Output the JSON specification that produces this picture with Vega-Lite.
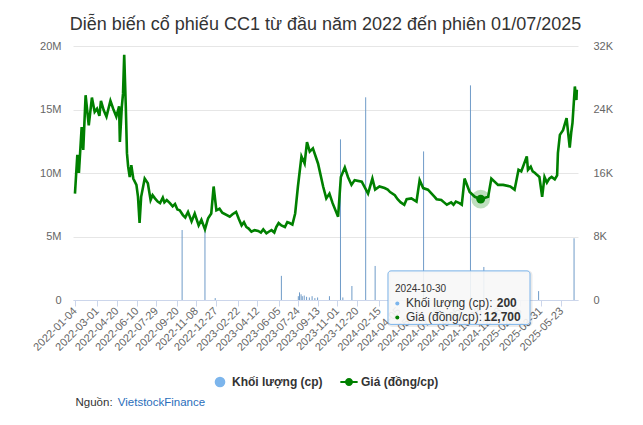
{
  "$schema": "https://vega.github.io/schema/vega-lite/v6.json",
  "width": 505,
  "height": 254,
  "autosize": {"type": "none"},
  "padding": {"left": 73, "top": 46, "right": 65, "bottom": 125},
  "config": {"view": {"stroke": null}, "font": "Liberation Sans"},
  "title": {
    "text": "Diễn biến cổ phiếu CC1 từ đầu năm 2022 đến phiên 01/07/2025",
    "fontSize": 18, "fontWeight": "normal", "color": "#333333", "font": "Liberation Sans",
    "anchor": "middle", "frame": "group", "baseline": "alphabetic", "offset": 12, "dy": 20
  },
  "datasets": {
    "vol": [
      {"date": "2022-10-03", "v": 5510000},
      {"date": "2022-11-30", "v": 5500000},
      {"date": "2022-12-26", "v": 150000},
      {"date": "2023-06-12", "v": 1900000},
      {"date": "2023-07-25", "v": 300000},
      {"date": "2023-07-28", "v": 600000},
      {"date": "2023-08-01", "v": 450000},
      {"date": "2023-08-04", "v": 300000},
      {"date": "2023-08-09", "v": 350000},
      {"date": "2023-08-15", "v": 250000},
      {"date": "2023-08-22", "v": 200000},
      {"date": "2023-08-29", "v": 300000},
      {"date": "2023-09-05", "v": 150000},
      {"date": "2023-09-12", "v": 200000},
      {"date": "2023-10-12", "v": 300000},
      {"date": "2023-11-09", "v": 12650000},
      {"date": "2023-11-15", "v": 200000},
      {"date": "2023-12-08", "v": 1100000},
      {"date": "2024-01-12", "v": 15960000},
      {"date": "2024-02-05", "v": 2680000},
      {"date": "2024-06-07", "v": 11700000},
      {"date": "2024-10-04", "v": 16900000},
      {"date": "2024-10-30", "v": 200},
      {"date": "2024-11-07", "v": 2600000},
      {"date": "2025-03-26", "v": 700000},
      {"date": "2025-06-24", "v": 4860000}
    ],
    "price": [
      {"date": "2022-01-04", "p": 13400},
      {"date": "2022-01-10", "p": 18300},
      {"date": "2022-01-14", "p": 16000},
      {"date": "2022-01-21", "p": 21800},
      {"date": "2022-01-25", "p": 18900},
      {"date": "2022-01-31", "p": 25800},
      {"date": "2022-02-08", "p": 22000},
      {"date": "2022-02-16", "p": 25500},
      {"date": "2022-02-23", "p": 23700},
      {"date": "2022-03-01", "p": 24100},
      {"date": "2022-03-07", "p": 23200},
      {"date": "2022-03-11", "p": 25100},
      {"date": "2022-03-18", "p": 23900},
      {"date": "2022-03-25", "p": 23100},
      {"date": "2022-04-04", "p": 25100},
      {"date": "2022-04-11", "p": 24100},
      {"date": "2022-04-19", "p": 23100},
      {"date": "2022-04-26", "p": 24400},
      {"date": "2022-04-28", "p": 19900},
      {"date": "2022-05-03", "p": 24400},
      {"date": "2022-05-06", "p": 26000},
      {"date": "2022-05-09", "p": 30900},
      {"date": "2022-05-13", "p": 24400},
      {"date": "2022-05-16", "p": 18500},
      {"date": "2022-05-19", "p": 16800},
      {"date": "2022-05-23", "p": 15500},
      {"date": "2022-05-27", "p": 17000},
      {"date": "2022-06-01", "p": 15300},
      {"date": "2022-06-09", "p": 14500},
      {"date": "2022-06-13", "p": 13000},
      {"date": "2022-06-17", "p": 9700},
      {"date": "2022-06-21", "p": 13000},
      {"date": "2022-06-30", "p": 15300},
      {"date": "2022-07-08", "p": 14700},
      {"date": "2022-07-15", "p": 12600},
      {"date": "2022-07-20", "p": 13200},
      {"date": "2022-07-26", "p": 12800},
      {"date": "2022-08-02", "p": 12400},
      {"date": "2022-08-08", "p": 12200},
      {"date": "2022-08-15", "p": 12900},
      {"date": "2022-08-19", "p": 12300},
      {"date": "2022-08-25", "p": 12600},
      {"date": "2022-09-02", "p": 12200},
      {"date": "2022-09-09", "p": 11800},
      {"date": "2022-09-15", "p": 12100},
      {"date": "2022-09-21", "p": 11400},
      {"date": "2022-09-27", "p": 11300},
      {"date": "2022-10-05", "p": 10700},
      {"date": "2022-10-11", "p": 10400},
      {"date": "2022-10-18", "p": 11100},
      {"date": "2022-10-27", "p": 9900},
      {"date": "2022-11-04", "p": 10900},
      {"date": "2022-11-14", "p": 9400},
      {"date": "2022-11-21", "p": 10100},
      {"date": "2022-11-30", "p": 8900},
      {"date": "2022-12-08", "p": 10300},
      {"date": "2022-12-16", "p": 10900},
      {"date": "2022-12-22", "p": 14300},
      {"date": "2022-12-29", "p": 11300},
      {"date": "2023-01-06", "p": 11500},
      {"date": "2023-01-13", "p": 11000},
      {"date": "2023-02-01", "p": 10500},
      {"date": "2023-02-08", "p": 10800},
      {"date": "2023-02-17", "p": 11100},
      {"date": "2023-02-24", "p": 10200},
      {"date": "2023-03-03", "p": 9400},
      {"date": "2023-03-09", "p": 9800},
      {"date": "2023-03-15", "p": 9200},
      {"date": "2023-03-21", "p": 9000},
      {"date": "2023-03-28", "p": 8600},
      {"date": "2023-04-05", "p": 8800},
      {"date": "2023-04-14", "p": 8700},
      {"date": "2023-04-21", "p": 8500},
      {"date": "2023-04-27", "p": 8900},
      {"date": "2023-05-05", "p": 8400},
      {"date": "2023-05-11", "p": 8600},
      {"date": "2023-05-18", "p": 8800},
      {"date": "2023-05-25", "p": 8500},
      {"date": "2023-05-30", "p": 9200},
      {"date": "2023-06-05", "p": 9700},
      {"date": "2023-06-12", "p": 9400},
      {"date": "2023-06-21", "p": 9200},
      {"date": "2023-06-27", "p": 9800},
      {"date": "2023-07-03", "p": 9700},
      {"date": "2023-07-10", "p": 9500},
      {"date": "2023-07-17", "p": 10900},
      {"date": "2023-07-24", "p": 14300},
      {"date": "2023-08-02", "p": 18100},
      {"date": "2023-08-10", "p": 17200},
      {"date": "2023-08-16", "p": 19900},
      {"date": "2023-08-23", "p": 18700},
      {"date": "2023-08-31", "p": 19100},
      {"date": "2023-09-13", "p": 17200},
      {"date": "2023-09-26", "p": 14300},
      {"date": "2023-10-04", "p": 12800},
      {"date": "2023-10-12", "p": 13400},
      {"date": "2023-10-20", "p": 12200},
      {"date": "2023-11-03", "p": 10500},
      {"date": "2023-11-10", "p": 15500},
      {"date": "2023-11-20", "p": 16700},
      {"date": "2023-11-28", "p": 15500},
      {"date": "2023-12-07", "p": 14500},
      {"date": "2023-12-15", "p": 15100},
      {"date": "2024-01-02", "p": 14900},
      {"date": "2024-01-18", "p": 13400},
      {"date": "2024-01-29", "p": 15300},
      {"date": "2024-02-05", "p": 13900},
      {"date": "2024-02-16", "p": 14300},
      {"date": "2024-02-29", "p": 14100},
      {"date": "2024-03-08", "p": 13900},
      {"date": "2024-03-14", "p": 13600},
      {"date": "2024-03-26", "p": 13200},
      {"date": "2024-04-02", "p": 12700},
      {"date": "2024-04-10", "p": 12300},
      {"date": "2024-04-19", "p": 12000},
      {"date": "2024-04-25", "p": 12700},
      {"date": "2024-05-07", "p": 12800},
      {"date": "2024-05-20", "p": 12400},
      {"date": "2024-05-28", "p": 15100},
      {"date": "2024-06-06", "p": 14100},
      {"date": "2024-06-18", "p": 13900},
      {"date": "2024-07-05", "p": 13000},
      {"date": "2024-07-10", "p": 12700},
      {"date": "2024-07-22", "p": 12600},
      {"date": "2024-07-29", "p": 12300},
      {"date": "2024-08-05", "p": 12000},
      {"date": "2024-08-16", "p": 12300},
      {"date": "2024-08-22", "p": 12000},
      {"date": "2024-08-28", "p": 12400},
      {"date": "2024-09-06", "p": 12200},
      {"date": "2024-09-12", "p": 12000},
      {"date": "2024-09-19", "p": 15300},
      {"date": "2024-10-02", "p": 13600},
      {"date": "2024-10-15", "p": 13000},
      {"date": "2024-10-30", "p": 12700},
      {"date": "2024-11-18", "p": 13000},
      {"date": "2024-11-26", "p": 15300},
      {"date": "2024-12-13", "p": 14500},
      {"date": "2024-12-26", "p": 14500},
      {"date": "2025-01-13", "p": 14300},
      {"date": "2025-01-24", "p": 13900},
      {"date": "2025-02-03", "p": 16400},
      {"date": "2025-02-10", "p": 16200},
      {"date": "2025-02-24", "p": 18100},
      {"date": "2025-02-27", "p": 16400},
      {"date": "2025-03-06", "p": 16800},
      {"date": "2025-03-11", "p": 16200},
      {"date": "2025-03-17", "p": 16000},
      {"date": "2025-03-21", "p": 15800},
      {"date": "2025-03-28", "p": 15500},
      {"date": "2025-04-04", "p": 13000},
      {"date": "2025-04-10", "p": 15500},
      {"date": "2025-04-16", "p": 14800},
      {"date": "2025-04-22", "p": 15300},
      {"date": "2025-04-28", "p": 15500},
      {"date": "2025-05-06", "p": 15200},
      {"date": "2025-05-12", "p": 15700},
      {"date": "2025-05-14", "p": 18500},
      {"date": "2025-05-19", "p": 20800},
      {"date": "2025-05-27", "p": 21400},
      {"date": "2025-06-05", "p": 22900},
      {"date": "2025-06-13", "p": 19200},
      {"date": "2025-06-17", "p": 21200},
      {"date": "2025-06-20", "p": 22300},
      {"date": "2025-06-26", "p": 26900},
      {"date": "2025-06-30", "p": 25200},
      {"date": "2025-07-01", "p": 26500}
    ],
    "hover": [
      {"date": "2024-10-30", "label": "2024-10-30", "p": 12700, "v": 200}
    ]
  },
  "encoding": {
    "x": {
      "field": "date", "type": "temporal",
      "scale": {"type": "utc", "domain": [{"year": 2021, "month": 12, "date": 30, "utc": true}, {"year": 2025, "month": 7, "date": 4, "utc": true}]},
      "axis": {
        "values": [
          {"year": 2022, "month": 1, "date": 4, "utc": true},
          {"year": 2022, "month": 3, "date": 1, "utc": true},
          {"year": 2022, "month": 4, "date": 20, "utc": true},
          {"year": 2022, "month": 6, "date": 10, "utc": true},
          {"year": 2022, "month": 7, "date": 29, "utc": true},
          {"year": 2022, "month": 9, "date": 20, "utc": true},
          {"year": 2022, "month": 11, "date": 8, "utc": true},
          {"year": 2022, "month": 12, "date": 27, "utc": true},
          {"year": 2023, "month": 2, "date": 22, "utc": true},
          {"year": 2023, "month": 4, "date": 12, "utc": true},
          {"year": 2023, "month": 6, "date": 5, "utc": true},
          {"year": 2023, "month": 7, "date": 24, "utc": true},
          {"year": 2023, "month": 9, "date": 13, "utc": true},
          {"year": 2023, "month": 11, "date": 1, "utc": true},
          {"year": 2023, "month": 12, "date": 20, "utc": true},
          {"year": 2024, "month": 2, "date": 15, "utc": true},
          {"year": 2024, "month": 4, "date": 5, "utc": true},
          {"year": 2024, "month": 5, "date": 27, "utc": true},
          {"year": 2024, "month": 7, "date": 16, "utc": true},
          {"year": 2024, "month": 9, "date": 5, "utc": true},
          {"year": 2024, "month": 10, "date": 28, "utc": true},
          {"year": 2024, "month": 12, "date": 18, "utc": true},
          {"year": 2025, "month": 2, "date": 6, "utc": true},
          {"year": 2025, "month": 3, "date": 31, "utc": true},
          {"year": 2025, "month": 5, "date": 23, "utc": true}
        ],
        "format": "%Y-%m-%d",
        "labelAngle": -45, "labelAlign": "right", "labelBaseline": "middle",
        "labelFlush": false, "labelOverlap": false, "labelBound": false,
        "labelFontSize": 11, "labelColor": "#666666", "labelPadding": 3,
        "domainColor": "#ccd6eb", "tickColor": "#ccd6eb", "tickSize": 6, "grid": false,
        "title": "Nguồn:", "titleX": 2, "titleY": 105, "titleAlign": "left", "titleAnchor": "start",
        "titleBaseline": "alphabetic", "titleColor": "#333333", "titleFontSize": 11.5, "titleFontWeight": "normal"
      }
    }
  },
  "layer": [
    {
      "data": {"name": "vol"},
      "mark": {"type": "rule", "strokeWidth": 1},
      "encoding": {
        "y": {
          "field": "v", "type": "quantitative",
          "scale": {"domain": [0, 20000000], "nice": false},
          "axis": {
            "orient": "left", "title": null, "values": [0, 5000000, 10000000, 15000000, 20000000],
            "labelExpr": "datum.value == 0 ? '0' : (datum.value / 1000000) + 'M'",
            "grid": true, "gridColor": "#e6e6e6", "domain": false, "ticks": false,
            "labelPadding": 12, "labelColor": "#666666", "labelFontSize": 11
          }
        },
        "y2": {"datum": 0},
        "color": {
          "datum": "Khối lượng (cp)",
          "scale": {"domain": ["Khối lượng (cp)", "Giá (đồng/cp)"], "range": ["#6f9bc8", "#008000"]},
          "legend": {
            "orient": "none", "legendX": 141, "legendY": 330, "direction": "horizontal", "title": null,
            "labelFontSize": 12, "labelFontWeight": "bold", "labelColor": "#333333", "labelFont": "Liberation Sans",
            "symbolSize": 114, "labelOffset": 6, "columnPadding": 17,
            "encode": {
              "symbols": {
                "update": {
                  "shape": {"signal": "datum.value === 'Giá (đồng/cp)' ? 'M-1.62,-0.19H1.62V0.19H-1.62Z M-0.75,0A0.75,0.75 0 1,1 0.75,0A0.75,0.75 0 1,1 -0.75,0Z' : 'circle'"},
                  "fill": {"signal": "datum.value === 'Giá (đồng/cp)' ? '#008000' : '#7cb5ec'"},
                  "stroke": {"value": "transparent"},
                  "strokeWidth": {"value": 0},
                  "opacity": {"value": 1}
                }
              }
            }
          }
        }
      }
    },
    {
      "encoding": {
        "y": {
          "field": "p", "type": "quantitative",
          "scale": {"domain": [0, 32000], "nice": false},
          "axis": {
            "orient": "right", "values": [0, 8000, 16000, 24000, 32000],
            "labelExpr": "datum.value == 0 ? '0' : (datum.value / 1000) + 'K'",
            "grid": false, "domain": false, "ticks": false,
            "labelPadding": 15, "labelColor": "#666666", "labelFontSize": 11,
            "title": "VietstockFinance", "titleX": -460.7, "titleY": 359, "titleAngle": 0,
            "titleAlign": "left", "titleBaseline": "alphabetic", "titleColor": "#2a6ebb",
            "titleFontSize": 11.5, "titleFontWeight": "normal"
          }
        }
      },
      "layer": [
        {
          "data": {"name": "price"},
          "mark": {"type": "line", "strokeWidth": 2.6},
          "encoding": {"color": {"datum": "Giá (đồng/cp)"}}
        },
        {
          "data": {"name": "hover"},
          "mark": {"type": "point", "filled": true, "size": 350, "color": "#008000", "opacity": 0.25}
        },
        {
          "data": {"name": "hover"},
          "mark": {"type": "point", "filled": true, "size": 76, "color": "#008000", "opacity": 1}
        },
        {
          "data": {"name": "hover"},
          "mark": {"type": "rect", "xOffset": -91.7, "x2Offset": 50.3, "yOffset": 72.7, "y2Offset": 126.2, "fill": "#000000", "fillOpacity": 0, "stroke": "#000000", "strokeOpacity": 0.08, "strokeWidth": 3, "cornerRadius": 3},
          "encoding": {"x2": {"field": "date"}, "y2": {"field": "p"}}
        },
        {
          "data": {"name": "hover"},
          "mark": {"type": "rect", "xOffset": -92.7, "x2Offset": 49.3, "yOffset": 71.7, "y2Offset": 125.2, "fill": "#f7f7f7", "fillOpacity": 0.9, "stroke": "#7cb5ec", "strokeWidth": 1, "cornerRadius": 3},
          "encoding": {"x2": {"field": "date"}, "y2": {"field": "p"}}
        },
        {
          "data": {"name": "hover"},
          "mark": {"type": "text", "align": "left", "baseline": "alphabetic", "dx": -85.7, "dy": 92.4, "fontSize": 10, "color": "#333333"},
          "encoding": {"text": {"field": "label", "type": "nominal"}}
        },
        {
          "data": {"name": "hover"},
          "mark": {"type": "point", "filled": true, "size": 16, "color": "#7cb5ec", "opacity": 1, "xOffset": -83.4, "yOffset": 104.4}
        },
        {
          "data": {"name": "hover"},
          "mark": {"type": "text", "text": "Khối lượng (cp):", "align": "left", "baseline": "alphabetic", "dx": -74.7, "dy": 107.4, "fontSize": 12, "color": "#333333"}
        },
        {
          "data": {"name": "hover"},
          "mark": {"type": "text", "align": "left", "baseline": "alphabetic", "dx": 16, "dy": 107.4, "fontSize": 12, "fontWeight": "bold", "color": "#333333"},
          "encoding": {"text": {"field": "v", "type": "quantitative", "format": ","}}
        },
        {
          "data": {"name": "hover"},
          "mark": {"type": "point", "filled": true, "size": 16, "color": "#008000", "opacity": 1, "xOffset": -83.4, "yOffset": 118.4}
        },
        {
          "data": {"name": "hover"},
          "mark": {"type": "text", "text": "Giá (đồng/cp):", "align": "left", "baseline": "alphabetic", "dx": -74.7, "dy": 122.2, "fontSize": 12, "color": "#333333"}
        },
        {
          "data": {"name": "hover"},
          "mark": {"type": "text", "align": "left", "baseline": "alphabetic", "dx": 3.3, "dy": 122.2, "fontSize": 12, "fontWeight": "bold", "color": "#333333"},
          "encoding": {"text": {"field": "p", "type": "quantitative", "format": ","}}
        }
      ]
    }
  ],
  "resolve": {"scale": {"y": "independent"}, "axis": {"y": "independent"}}
}
